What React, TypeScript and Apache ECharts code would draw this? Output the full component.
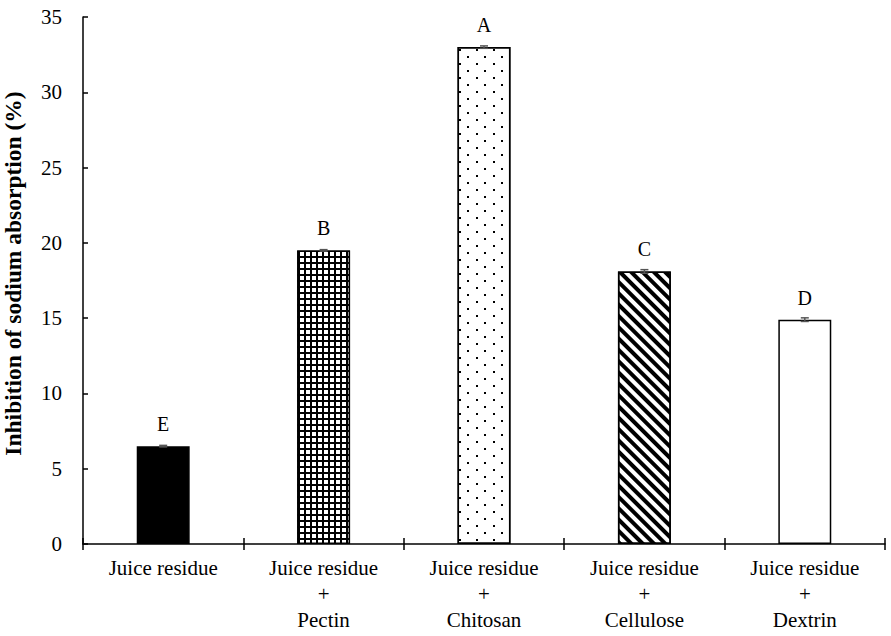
import React, { useEffect, useRef } from "react";
import * as echarts from "echarts";

const categories = [
  "Juice residue",
  "Juice residue\n+\nPectin",
  "Juice residue\n+\nChitosan",
  "Juice residue\n+\nCellulose",
  "Juice residue\n+\nDextrin",
];
const values = [6.5, 19.5, 33.0, 18.1, 14.9];
const errors = [0.05, 0.05, 0.08, 0.12, 0.12];
const letters = ["E", "B", "A", "C", "D"];
const yTicks = { min: 0, max: 35, interval: 5 };

const FONT = "Times New Roman, Liberation Serif, serif";

export default function App() {
  const ref = useRef<HTMLDivElement>(null);
  useEffect(() => {
    if (!ref.current) return;
    const chart = echarts.init(ref.current, undefined, { renderer: "svg" });

    const styles: any[] = [
      { color: "#000" },
      {
        color: "#000",
        decal: {
          symbol: "rect",
          symbolSize: 1,
          color: "#fff",
          backgroundColor: "#000",
          dashArrayX: [3.2, 2],
          dashArrayY: [3.2, 2],
          rotation: 0,
        },
      },
      {
        color: "#fff",
        decal: {
          symbol: "rect",
          symbolSize: 1,
          color: "#000",
          backgroundColor: "#fff",
          dashArrayX: [
            [1.6, 14.4],
            [0, 8, 1.6, 6.4],
          ],
          dashArrayY: [1.6, 4.6],
          rotation: 0,
        },
      },
      {
        color: "#fff",
        decal: {
          symbol: "rect",
          symbolSize: 1,
          color: "#000",
          backgroundColor: "#fff",
          dashArrayX: [1, 0],
          dashArrayY: [3.6, 3.6],
          rotation: Math.PI / 4,
        },
      },
      { color: "#fff" },
    ];

    const barData = values.map((v, i) => ({
      value: v,
      itemStyle: { ...styles[i], borderColor: "#000", borderWidth: 1.5 },
    }));

    chart.setOption({
      animation: false,
      backgroundColor: "#fff",
      textStyle: { fontFamily: FONT },
      grid: { left: 83, right: 6, top: 17, bottom: 92, containLabel: false, outerBoundsMode: "none" },
      xAxis: [
        {
          type: "category",
          data: categories,
          axisLine: { lineStyle: { color: "#000", width: 1.5 } },
          axisTick: { show: true, length: 6, lineStyle: { color: "#000", width: 1.5 } },
          axisLabel: {
            color: "#000",
            fontFamily: FONT,
            fontSize: 21,
            lineHeight: 26,
            margin: 11,
            interval: 0,
          },
        },
        {
          type: "category",
          data: categories,
          position: "bottom",
          axisLine: { show: false },
          axisTick: { show: true, inside: true, length: 6, lineStyle: { color: "#000", width: 1.5 } },
          axisLabel: { show: false },
        },
      ],
      yAxis: {
        type: "value",
        min: yTicks.min,
        max: yTicks.max,
        interval: yTicks.interval,
        name: "Inhibition of sodium absorption (%)",
        nameLocation: "middle",
        nameGap: 58,
        nameTextStyle: {
          color: "#000",
          fontFamily: FONT,
          fontSize: 23.5,
          fontWeight: "bold",
          padding: [0, 0, 0, 14],
        },
        axisLine: { show: true, lineStyle: { color: "#000", width: 1.5 } },
        axisTick: { show: true, inside: true, length: 5, lineStyle: { color: "#000", width: 1.5 } },
        splitLine: { show: false },
        axisLabel: { color: "#000", fontFamily: FONT, fontSize: 21, margin: 21 },
      },
      series: [
        {
          type: "bar",
          data: barData,
          barWidth: "33%",
          label: {
            show: true,
            position: "top",
            distance: 12,
            color: "#000",
            fontFamily: FONT,
            fontSize: 20,
            formatter: (p: any) => letters[p.dataIndex],
          },
        },
        {
          type: "custom",
          data: values.map((v, i) => [i, v, errors[i]]),
          z: 10,
          renderItem: (params: any, api: any) => {
            const x = api.value(0);
            const v = api.value(1);
            const e = api.value(2);
            const top = api.coord([x, v + e]);
            const bot = api.coord([x, v - e]);
            const hw = 4;
            const st = { stroke: "#555", lineWidth: 1.5 };
            return {
              type: "group",
              children: [
                { type: "line", shape: { x1: top[0], y1: top[1], x2: bot[0], y2: bot[1] }, style: st },
                { type: "line", shape: { x1: top[0] - hw, y1: top[1], x2: top[0] + hw, y2: top[1] }, style: st },
                { type: "line", shape: { x1: bot[0] - hw, y1: bot[1], x2: bot[0] + hw, y2: bot[1] }, style: st },
              ],
            };
          },
        },
      ],
    });
    return () => chart.dispose();
  }, []);

  return <div ref={ref} style={{ width: 891, height: 636, position: "absolute", left: 0, top: 0 }} />;
}
